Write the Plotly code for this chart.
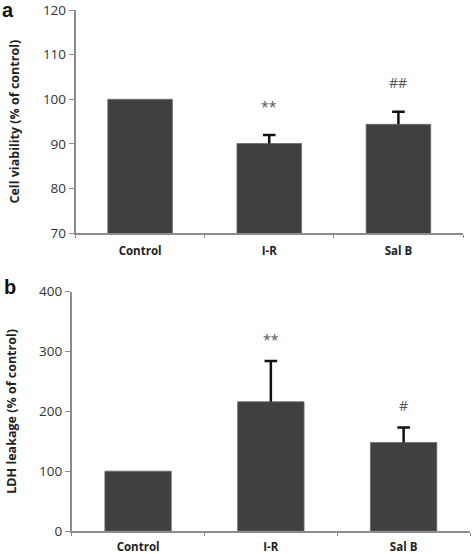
import plotly.graph_objects as go

categories = ["Control", "I-R", "Sal B"]
viability = [100, 90.1, 94.4]
viability_err = [0, 1.9, 2.8]
ldh = [100, 216, 148]
ldh_err = [0, 68, 25]
sig_a = ["", "**", "##"]
sig_b = ["", "**", "#"]

W, H = 472, 554
bar_color = "#404040"
axis_color = "#8c8c8c"
err_color = "#111111"
font_family = "Open Sans, Liberation Sans, sans-serif"


def cap_y(vals, errs):
    return [v + e if e > 0 else None for v, e in zip(vals, errs)]


fig = go.Figure()
for xa, ya, vals, errs in [("x", "y", viability, viability_err), ("x2", "y2", ldh, ldh_err)]:
    fig.add_trace(go.Bar(
        x=categories, y=vals, width=0.5,
        marker=dict(color=bar_color, line=dict(color="#6a6a6a", width=0.8)),
        error_y=dict(type="data", symmetric=False, array=errs, arrayminus=[0] * len(errs),
                     color=err_color, thickness=2.5, width=0, visible=True),
        xaxis=xa, yaxis=ya, showlegend=False, hoverinfo="skip"))
    fig.add_trace(go.Scatter(
        x=categories, y=cap_y(vals, errs), mode="markers",
        marker=dict(symbol="line-ew-open", size=9, color=err_color, line=dict(color=err_color, width=2.5)),
        xaxis=xa, yaxis=ya, showlegend=False, hoverinfo="skip"))


def py(px):
    return 1 - px / H


axis_common = dict(showline=True, linecolor=axis_color, linewidth=1.5, showgrid=False, zeroline=False,
                   ticks="outside", tickcolor=axis_color, tickwidth=1.2, automargin=False)

xtick_font = dict(size=11.5, color="#222222", family=font_family, weight="bold")
ytick_font = dict(size=13.5, color="#333333")
ytitle_font = dict(size=12.5, color="#222222")

fig.update_layout(
    width=W, height=H, margin=dict(l=0, r=0, t=0, b=0, autoexpand=False),
    paper_bgcolor="white", plot_bgcolor="white",
    font=dict(family=font_family, color="#333333"),
    xaxis=dict(domain=[75.5 / W, 463 / W], anchor="y", tickson="boundaries", tickfont=xtick_font,
               ticklen=3, ticklabelstandoff=6, **axis_common),
    yaxis=dict(domain=[py(233.3), py(10)], anchor="x", range=[70, 120], tickvals=[70, 80, 90, 100, 110, 120],
               tickfont=ytick_font, ticklen=5, ticklabelstandoff=0,
               title=dict(text="<b>Cell viability (% of control)</b>", font=ytitle_font, standoff=20),
               **axis_common),
    xaxis2=dict(domain=[71.7 / W, 470 / W], anchor="y2", tickson="boundaries", tickfont=xtick_font,
                ticklen=3, ticklabelstandoff=4, **axis_common),
    yaxis2=dict(domain=[py(531), py(291.7)], anchor="x2", range=[0, 400], tickvals=[0, 100, 200, 300, 400],
                tickfont=ytick_font, ticklen=5, ticklabelstandoff=0,
                title=dict(text="<b>LDH leakage (% of control)</b>", font=ytitle_font, standoff=20),
                **axis_common),
)

annotations = []
for cat, v, e, s in zip(categories, viability, viability_err, sig_a):
    if s:
        annotations.append(dict(x=cat, y=v + e, xref="x", yref="y", text=s, showarrow=False,
                                yshift=29, font=dict(size=14, color="#555555")))
for cat, v, e, s in zip(categories, ldh, ldh_err, sig_b):
    if s:
        annotations.append(dict(x=cat, y=v + e, xref="x2", yref="y2", text=s, showarrow=False,
                                yshift=22, font=dict(size=14, color="#555555")))
annotations.append(dict(x=0 / W, y=py(-3), xref="paper", yref="paper", text="<b>a</b>", showarrow=False,
                        xanchor="left", yanchor="top", font=dict(size=20, color="#111111", family="Liberation Sans")))
annotations.append(dict(x=2 / W, y=py(274), xref="paper", yref="paper", text="<b>b</b>", showarrow=False,
                        xanchor="left", yanchor="top", font=dict(size=20, color="#111111", family="Liberation Sans")))
fig.update_layout(annotations=annotations)

fig.write_html("out.html", config={"displayModeBar": False},
               post_script="document.body.style.margin='0';document.body.style.padding='0';"
                           "document.body.style.overflow='hidden';")
